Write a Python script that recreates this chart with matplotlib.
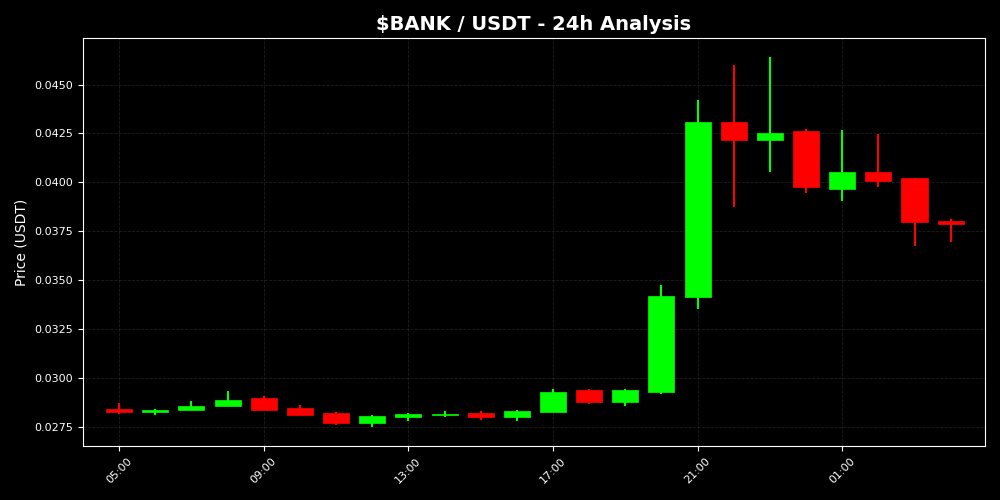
import datetime as dt
import numpy as np
import matplotlib
matplotlib.use("Agg")
import matplotlib.pyplot as plt
import matplotlib.dates as mdates
from matplotlib.ticker import FormatStrFormatter, MultipleLocator

# hourly candles, 05:00 -> 04:00 next day
HOURS = ["05:00", "06:00", "07:00", "08:00", "09:00", "10:00", "11:00", "12:00",
         "13:00", "14:00", "15:00", "16:00", "17:00", "18:00", "19:00", "20:00",
         "21:00", "22:00", "23:00", "00:00", "01:00", "02:00", "03:00", "04:00"]

OPEN = [0.02838, 0.02823, 0.02833, 0.02854, 0.02899, 0.02847, 0.02818, 0.02767,
        0.02797, 0.02808, 0.02818, 0.02797, 0.02823, 0.02939, 0.02874, 0.02925,
        0.03415, 0.04308, 0.04216, 0.04262, 0.03966, 0.04051, 0.04020, 0.03801]
HIGH = [0.02871, 0.02842, 0.02883, 0.02934, 0.02905, 0.02861, 0.02823, 0.02808,
        0.02820, 0.02830, 0.02830, 0.02833, 0.02944, 0.02945, 0.02944, 0.03474,
        0.04423, 0.04602, 0.04643, 0.04274, 0.04265, 0.04245, 0.04024, 0.03811]
LOW = [0.02813, 0.02810, 0.02833, 0.02854, 0.02833, 0.02808, 0.02757, 0.02746,
       0.02779, 0.02797, 0.02786, 0.02777, 0.02823, 0.02864, 0.02854, 0.02917,
       0.03354, 0.03874, 0.04053, 0.03945, 0.03905, 0.03976, 0.03675, 0.03695]
CLOSE = [0.02823, 0.02837, 0.02857, 0.02888, 0.02833, 0.02808, 0.02767, 0.02803,
         0.02813, 0.02815, 0.02797, 0.02828, 0.02929, 0.02874, 0.02939, 0.03418,
         0.04308, 0.04216, 0.04250, 0.03976, 0.04051, 0.04005, 0.03797, 0.03787]

UP = "#00ff00"
DOWN = "#ff0000"

start = dt.datetime(2024, 1, 1, 5, 0)
times = [start + dt.timedelta(hours=i) for i in range(len(HOURS))]
x = mdates.date2num(times)

o = np.array(OPEN)
h = np.array(HIGH)
l = np.array(LOW)
c = np.array(CLOSE)
colors = [UP if cc >= oo else DOWN for oo, cc in zip(o, c)]

fig = plt.figure(figsize=(10, 5), dpi=100, facecolor="black")
ax = fig.add_axes([0.083, 0.108, 0.902, 0.816])
ax.set_facecolor("black")

width = 0.72 / 24  # days
ax.vlines(x, l, h, colors=colors, linewidth=1.5, zorder=2)
ax.bar(x, np.abs(c - o), bottom=np.minimum(o, c), width=width,
       color=colors, edgecolor=colors, linewidth=0.5, zorder=3)

# right edge stops just short of 05:00 so no tick is drawn there
ax.set_xlim(mdates.date2num(start - dt.timedelta(hours=1)),
            mdates.date2num(start + dt.timedelta(hours=23.95)))
ax.xaxis.set_major_locator(mdates.HourLocator(byhour=[1, 5, 9, 13, 17, 21]))
ax.xaxis.set_major_formatter(mdates.DateFormatter("%H:%M"))
ax.yaxis.set_major_locator(MultipleLocator(0.0025))
ax.yaxis.set_major_formatter(FormatStrFormatter("%.4f"))

ax.set_title("\\$BANK / USDT - 24h Analysis", color="white", fontsize=14,
             fontweight="bold")
ax.set_ylabel("Price (USDT)", color="white", fontsize=10)
ax.tick_params(colors="white", labelsize=8)
plt.setp(ax.get_xticklabels(), rotation=45)
for sp in ax.spines.values():
    sp.set_color("white")
ax.grid(True, color="#3a3a3a", linestyle="--", linewidth=0.6, alpha=0.5)
ax.set_axisbelow(True)

fig.savefig("out.png", facecolor="black")
